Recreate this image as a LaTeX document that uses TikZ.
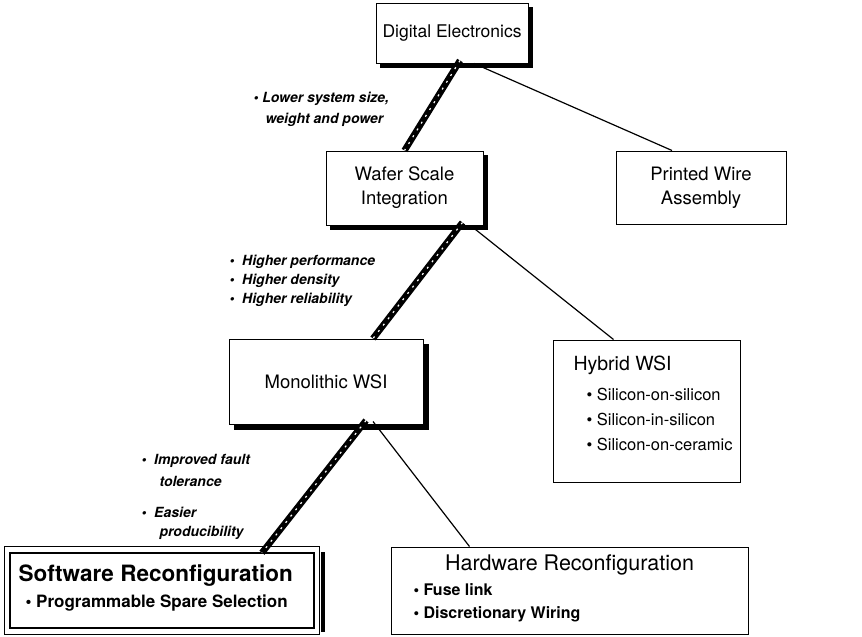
\documentclass[tikz,border=0pt]{standalone}
\usepackage{fontspec}
\setmainfont{TeX Gyre Heros}
\usetikzlibrary{calc,backgrounds}
\begin{document}
\begin{tikzpicture}[x=1pt,y=-1pt,
  box/.style={draw, line width=1pt, fill=white, inner sep=0pt},
  title/.style={align=center},
  item/.style={font=\fontsize{16.5}{19}\selectfont, anchor=west},
  benefit/.style={font=\fontsize{14}{16}\selectfont\bfseries\itshape, anchor=west},
  hatch/.style={line width=6.5pt, black, postaction={draw, white, line width=1.2pt, dash pattern=on 2pt off 6pt}},
  thin/.style={line width=1.2pt, black},
  shade/.style={fill=black}]
\useasboundingbox (0,0) rectangle (862,637);
% boxes
\node[box, minimum width=152, minimum height=60] (de) at (452,33) {};
\node[title, font=\fontsize{17.5}{20}\selectfont] (det) at (de.center) {Digital Electronics};
\node[box, minimum width=157, minimum height=74] (wsi) at (404.5,188) {};
\node[title, font=\fontsize{18.5}{24}\selectfont] (wsit) at (wsi.center) {Wafer Scale\\Integration};
\node[box, minimum width=170, minimum height=73] (pwa) at (701,187.5) {};
\node[title, font=\fontsize{18.5}{24}\selectfont] (pwat) at (pwa.center) {Printed Wire\\Assembly};
\node[box, minimum width=194, minimum height=85] (mono) at (326,381.5) {};
\node[title, font=\fontsize{18.5}{22}\selectfont] (monot) at (mono.center) {Monolithic WSI};
\node[box, minimum width=187, minimum height=142] (hyb) at (646.5,411) {};
\node[anchor=west, font=\fontsize{19.5}{22}\selectfont] (hybt) at (570,365) {Hybrid WSI};
\node[item] (hyb1) at (583,394) {• Silicon-on-silicon};
\node[item] (hyb2) at (583,419) {• Silicon-in-silicon};
\node[item] (hyb3) at (583,444) {• Silicon-on-ceramic};
\node[box, minimum width=357, minimum height=87] (hw) at (569.5,590.5) {};
\node[title, font=\fontsize{21.5}{24}\selectfont] (hwt) at (569.5,565) {Hardware Reconfiguration};
\node[item, font=\fontsize{16}{19}\selectfont\bfseries] (hw1) at (410,590) {• Fuse link};
\node[item, font=\fontsize{16}{19}\selectfont\bfseries] (hw2) at (410,614) {• Discretionary Wiring};
\node[box, line width=2.5pt, minimum width=304, minimum height=75] (sw) at (162,590.5) {};
\draw[line width=0.8pt] ([shift={(-4,-5)}]sw.north west) rectangle ([shift={(4,5)}]sw.south east);
\node[anchor=west, font=\fontsize{22.5}{26}\selectfont\bfseries] (swt) at (15,576) {Software Reconfiguration};
\node[anchor=west, font=\fontsize{17}{20}\selectfont\bfseries] (sw1) at (22,603) {• Programmable Spare Selection};
% shadows
\begin{scope}[on background layer]
\fill[shade] ([shift={(4,4)}]de.north west) rectangle ([shift={(4,4)}]de.south east);
\fill[shade] ([shift={(4,4)}]wsi.north west) rectangle ([shift={(4,4)}]wsi.south east);
\fill[shade] ([shift={(5,5)}]mono.north west) rectangle ([shift={(5,5)}]mono.south east);
\fill[shade] ([shift={(6,0)}]sw.north east) rectangle ([shift={(10,3)}]sw.south east);
\end{scope}
% connectors
\coordinate (de1) at ([xshift=8pt,yshift=3pt]de.south);
\coordinate (de2) at ([xshift=22pt]de.south);
\draw[hatch] (de1) -- (wsi.north);
\draw[thin] (de2) -- ([xshift=-29pt]pwa.north);
\coordinate (w1) at ([xshift=58pt,yshift=3pt]wsi.south);
\coordinate (w2) at ([xshift=66pt]wsi.south);
\draw[hatch] (w1) -- ([xshift=47pt]mono.north);
\draw[thin] (w2) -- ([xshift=61pt]hyb.north west);
\coordinate (m1) at ([xshift=40pt,yshift=4pt]mono.south);
\coordinate (m2) at ([xshift=47pt,yshift=3pt]mono.south);
\draw[hatch] (m1) -- ([xshift=100pt, yshift=-1pt]sw.north);
\draw[thin] (m2) -- ([xshift=79pt]hw.north west);
% benefit labels
\node[benefit] (l1) at (250,99) {• Lower system size,};
\node[benefit] (l1b) at (262,120) {weight and power};
\node[benefit] (l2) at (226,262) {•\ \ Higher performance};
\node[benefit] (l3) at (226,281) {•\ \ Higher density};
\node[benefit] (l4) at (226,300) {•\ \ Higher reliability};
\node[benefit] (l5) at (138,461) {•\ \ Improved fault};
\node[benefit] (l5b) at (156,481) {tolerance};
\node[benefit] (l6) at (138,512) {•\ \ Easier};
\node[benefit] (l6b) at (156,533) {producibility};
\end{tikzpicture}
\end{document}
